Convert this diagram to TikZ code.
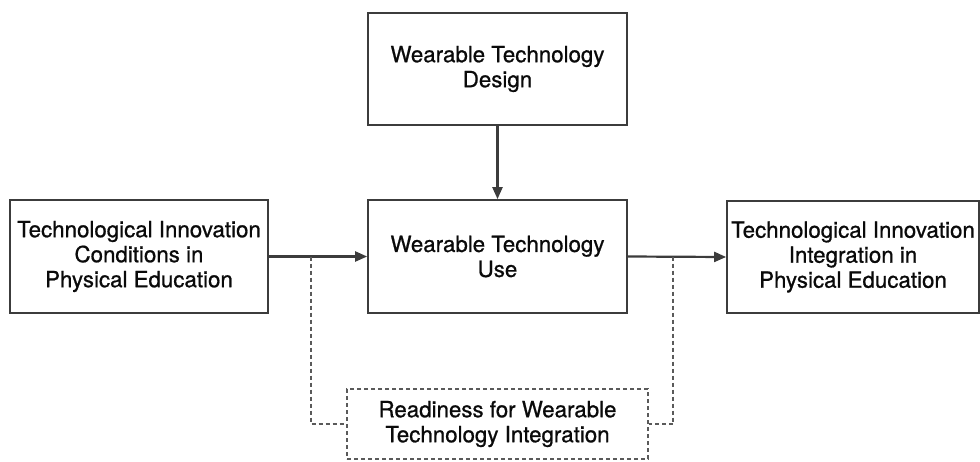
\documentclass[tikz,border=0pt]{standalone}
\usepackage{fontspec}
\setmainfont[FakeBold=0.8]{TeX Gyre Heros}
\usetikzlibrary{arrows.meta}
\definecolor{boxline}{HTML}{3C3C3C}
\definecolor{dashline}{HTML}{5A5A5A}
\definecolor{txt}{HTML}{0A0A0A}
\begin{document}
\begin{tikzpicture}[x=1pt,y=-1pt,
  box/.style={draw=boxline, line width=1.7pt, inner sep=0pt, align=center,
    text=txt, font=\fontsize{22.3}{25}\selectfont},
  dbox/.style={box, draw=dashline, line width=1.4pt, dash pattern=on 4pt off 3pt},
  flow/.style={draw=boxline, line width=2.2pt, -{Triangle[length=12pt,width=10pt]}},
  dline/.style={draw=dashline, line width=1.4pt, dash pattern=on 4pt off 3pt}]
\useasboundingbox (0,0) rectangle (980,461);
\node[box, minimum width=258pt, minimum height=113pt] (left) at (139,256.5)
  {Technological Innovation\\Conditions in\\Physical Education};
\node[box, minimum width=259pt, minimum height=112pt] (top) at (497.5,69)
  {Wearable Technology\\Design};
\node[box, minimum width=259pt, minimum height=113pt] (mid) at (497.5,256.5)
  {Wearable Technology\\Use};
\node[box, minimum width=252pt, minimum height=112pt] (right) at (853,257)
  {Technological Innovation\\Integration in\\Physical Education};
\node[dbox, minimum width=301pt, minimum height=70pt] (bot) at (497.5,424)
  {Readiness for Wearable\\Technology Integration};
\draw[flow] (top.south) -- (mid.north);
\draw[flow] (left.east) -- (mid.west);
\draw[flow] (mid.east) -- (right.west);
\coordinate (j1) at (311,256.5);
\coordinate (j2) at (673,256.5);
\draw[dline] (j1) |- (bot.west);
\draw[dline] (j2) |- (bot.east);
\end{tikzpicture}
\end{document}
